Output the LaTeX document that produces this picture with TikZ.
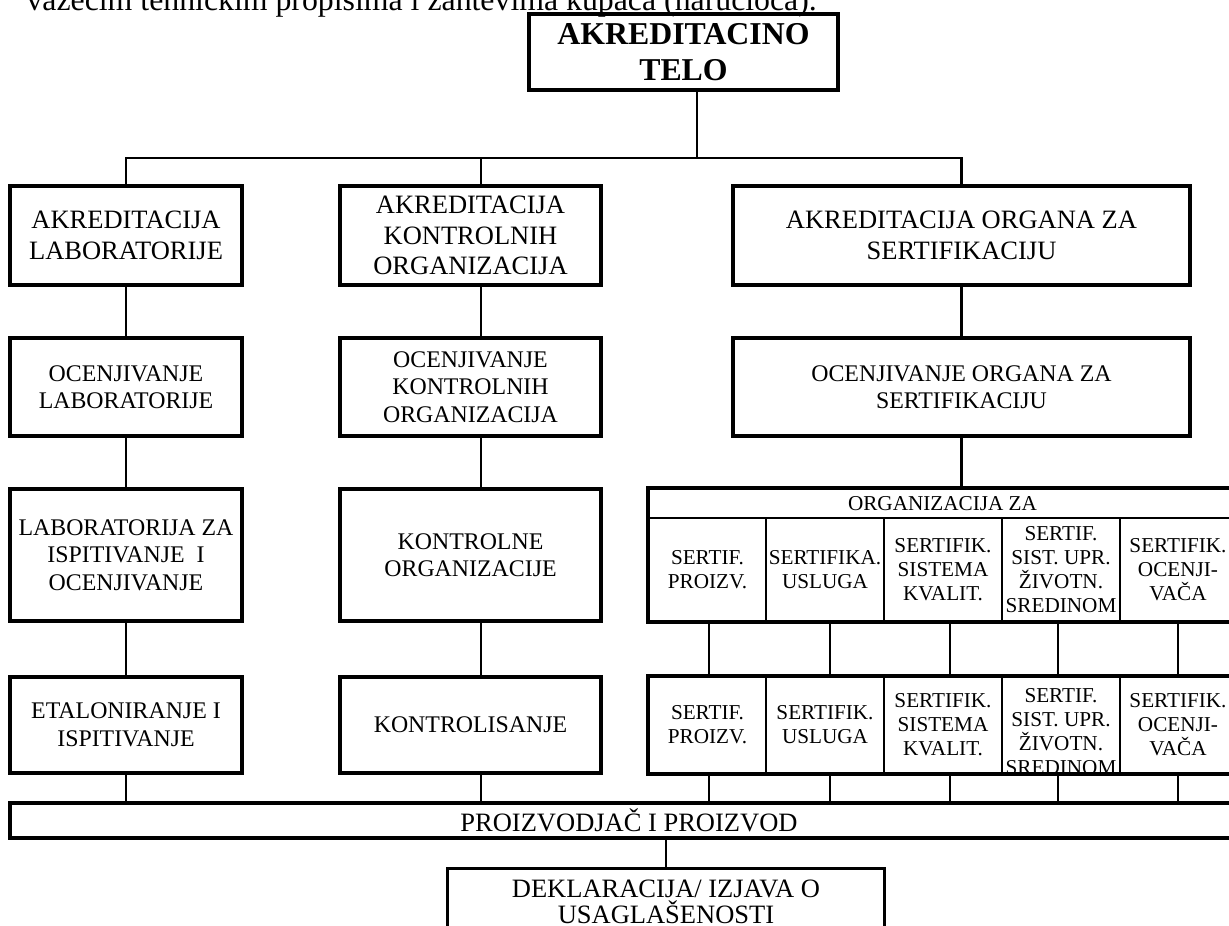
\documentclass[tikz,border=0pt]{standalone}
\usepackage{fontspec}
\setmainfont{Liberation Serif}
\newcommand\deklfont{\fontsize{10}{9.6}\selectfont\setlength{\lineskiplimit}{-20pt}}
\def\u{0.37736pt}
\tikzset{
  bx/.style={draw, line width=1.3pt, inner sep=0pt, align=center, font=\fontsize{9}{10.4}\selectfont},
  rowone/.style={font=\fontsize{10}{11.5}\selectfont},
  sz/.style 2 args={minimum width=#1*\u, minimum height=#2*\u},
  conn/.style={line width=1.1pt},
  cell/.style={draw, line width=0.6pt, inner sep=0pt, align=center, font=\fontsize{8}{9.1}\selectfont},
  celltext/.style={inner sep=0pt, align=center, font=\fontsize{8}{9.1}\selectfont},
  outer/.style={line width=1.3pt},
}
\begin{document}
\begin{tikzpicture}[x=\u, y=-\u]
\path[use as bounding box, fill=white] (0,0) rectangle (1229,925);

% cut-off line of body text
\node[anchor=base west, inner sep=0pt, font=\fontsize{12}{14}\selectfont] (intro) at (26,10)
  {važećim tehničkim propisima i zahtevima kupaca (naručioca).};

% top
\node[bx, sz={309}{76}, font=\bfseries\fontsize{12}{13.6}\selectfont] (top) at (683.5,52) {AKREDITACINO\\TELO};

% row 1
\node[bx, rowone, sz={232}{99}] (L1) at (126,235.5) {AKREDITACIJA\\LABORATORIJE};
\node[bx, rowone, sz={261}{99}] (M1) at (470.5,235.5) {AKREDITACIJA\\KONTROLNIH\\ORGANIZACIJA};
\node[bx, rowone, sz={457}{99}] (R1) at (961.5,235.5) {AKREDITACIJA ORGANA ZA\\SERTIFIKACIJU};

% row 2
\node[bx, sz={232}{98}] (L2) at (126,387) {OCENJIVANJE\\LABORATORIJE};
\node[bx, sz={261}{98}] (M2) at (470.5,387) {OCENJIVANJE\\KONTROLNIH\\ORGANIZACIJA};
\node[bx, sz={457}{98}] (R2) at (961.5,387) {OCENJIVANJE ORGANA ZA\\SERTIFIKACIJU};

% row 3
\node[bx, sz={232}{132}] (L3) at (126,555) {LABORATORIJA ZA\\ISPITIVANJE\ \ I\\OCENJIVANJE};
\node[bx, sz={261}{132}] (M3) at (470.5,555) {KONTROLNE\\ORGANIZACIJE};

% row 4
\node[bx, sz={232}{96}] (L4) at (126,725) {ETALONIRANJE I\\ISPITIVANJE};
\node[bx, sz={261}{96}] (M4) at (470.5,725) {KONTROLISANJE};

% table (row 3, right)
\node[cell, sz={587}{29}] (TH) at (942.5,503.5) {ORGANIZACIJA ZA};
\node[cell, sz={117}{103}] (A1) at (707.5,569.5) {SERTIF.\\PROIZV.};
\node[cell, sz={118}{103}] (A2) at (825,569.5) {SERTIFIKA.\\USLUGA};
\node[cell, sz={118}{103}] (A3) at (943,569.5) {SERTIFIK.\\SISTEMA\\KVALIT.};
\node[cell, sz={118}{103}] (A4) at (1061,569.5) {SERTIF.\\SIST. UPR.\\ŽIVOTN.\\SREDINOM};
\node[cell, sz={116}{103}] (A5) at (1178,569.5) {SERTIFIK.\\OCENJI-\\VAČA};
\draw[outer] (TH.north west) rectangle (A5.south east);

% table (row 4, right)
\node[cell, sz={117}{96}] (B1) at (707.5,725) {SERTIF.\\PROIZV.};
\node[cell, sz={118}{96}] (B2) at (825,725) {SERTIFIK.\\USLUGA};
\node[cell, sz={118}{96}] (B3) at (943,725) {SERTIFIK.\\SISTEMA\\KVALIT.};
\node[cell, sz={118}{96}] (B4) at (1061,725) {};
\begin{scope}
  \clip (B4.north west) rectangle (B4.south east);
  \node[celltext] (B4t) at ([yshift=-2.6pt]B4.center) {SERTIF.\\SIST. UPR.\\ŽIVOTN.\\SREDINOM};
\end{scope}
\node[cell, sz={116}{96}] (B5) at (1178,725) {SERTIFIK.\\OCENJI-\\VAČA};
\draw[outer] (B1.north west) rectangle (B5.south east);

% bottom
\node[bx, rowone, sz={1238}{35}] (bar) at (629,820.5) {PROIZVODJAČ I PROIZVOD};
\node[bx, anchor=north, font=\deklfont, minimum width=437*\u, inner ysep=4.4pt] (D) at (666,867)
  {DEKLARACIJA/ IZJAVA O\\USAGLAŠENOSTI};

% connectors
\coordinate (mx) at (481,0);
\coordinate (jt) at (697,158);
\coordinate (k1) at (709,0);
\coordinate (k2) at (830,0);
\coordinate (k3) at (950,0);
\coordinate (k4) at (1058,0);
\coordinate (k5) at (1178,0);

\draw[conn] (top.south -| jt) -- (jt);
\draw[conn] (L1.north) |- (jt) -| (R1.north);
\draw[conn] (M1.north -| mx) -- (mx |- jt);

\draw[conn] (L1.south) -- (L2.north);
\draw[conn] (L2.south) -- (L3.north);
\draw[conn] (L3.south) -- (L4.north);
\draw[conn] (L4.south) -- (L4.south |- bar.north);

\draw[conn] (M1.south -| mx) -- (M2.north -| mx);
\draw[conn] (M2.south -| mx) -- (M3.north -| mx);
\draw[conn] (M3.south -| mx) -- (M4.north -| mx);
\draw[conn] (M4.south -| mx) -- (bar.north -| mx);

\draw[conn] (R1.south) -- (R2.north);
\draw[conn] (R2.south) -- (R2.south |- TH.north);

\draw[conn] (A1.south -| k1) -- (B1.north -| k1);
\draw[conn] (A2.south -| k2) -- (B2.north -| k2);
\draw[conn] (A3.south -| k3) -- (B3.north -| k3);
\draw[conn] (A4.south -| k4) -- (B4.north -| k4);
\draw[conn] (A5.south -| k5) -- (B5.north -| k5);

\draw[conn] (B1.south -| k1) -- (bar.north -| k1);
\draw[conn] (B2.south -| k2) -- (bar.north -| k2);
\draw[conn] (B3.south -| k3) -- (bar.north -| k3);
\draw[conn] (B4.south -| k4) -- (bar.north -| k4);
\draw[conn] (B5.south -| k5) -- (bar.north -| k5);

\draw[conn] (bar.south -| D.north) -- (D.north);
\end{tikzpicture}
\end{document}
